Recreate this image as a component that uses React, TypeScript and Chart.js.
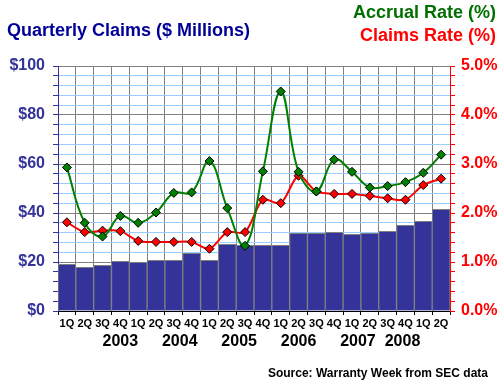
import React, { useEffect, useRef } from "react";
import { Chart, registerables } from "chart.js";

Chart.register(...registerables);

const quarters = [
  "1Q", "2Q", "3Q", "4Q",
  "1Q", "2Q", "3Q", "4Q",
  "1Q", "2Q", "3Q", "4Q",
  "1Q", "2Q", "3Q", "4Q",
  "1Q", "2Q", "3Q", "4Q",
  "1Q", "2Q",
];
const years = ["2003", "2004", "2005", "2006", "2007", "2008"];
const yearFirstQuarter = [0, 4, 8, 12, 16, 20];
const yearLastQuarter = [3, 7, 11, 15, 19, 21];

// Quarterly claims, $ millions (left axis)
const claims = [
  19.1, 17.8, 18.6, 20.3, 19.9, 20.7, 20.7, 23.5, 20.7, 27.2, 26.8,
  26.8, 26.8, 31.7, 31.7, 32.1, 31.3, 31.7, 32.5, 35.0, 36.6, 41.5,
];
// Accrual rate, % (right axis)
const accrualRate = [
  2.93, 1.8, 1.52, 1.94, 1.8, 2.01, 2.41, 2.42, 3.06, 2.1, 1.33,
  2.85, 4.48, 2.84, 2.44, 3.09, 2.84, 2.52, 2.55, 2.63, 2.82, 3.19,
];
// Claims rate, % (right axis)
const claimsRate = [
  1.81, 1.61, 1.64, 1.63, 1.43, 1.41, 1.41, 1.41, 1.27, 1.61, 1.61,
  2.27, 2.2, 2.76, 2.44, 2.39, 2.39, 2.35, 2.3, 2.27, 2.57, 2.7,
];

const leftTickLabels = ["$0", "$20", "$40", "$60", "$80", "$100"];
const rightTickLabels = ["0.0%", "1.0%", "2.0%", "3.0%", "4.0%", "5.0%"];

const FONT = '"Liberation Sans", Arial, Helvetica, sans-serif';

export default function App() {
  const canvasRef = useRef<HTMLCanvasElement | null>(null);

  useEffect(() => {
    if (!canvasRef.current) return;
    Chart.defaults.font.family = FONT;
    const chart = new Chart(canvasRef.current, {
      type: "bar",
      data: {
        labels: quarters,
        datasets: [
          {
            type: "line",
            label: "Accrual Rate (%)",
            data: accrualRate,
            yAxisID: "y1",
            borderColor: "#008000",
            borderWidth: 2,
            tension: 0.4,
            pointStyle: "rectRot",
            pointRadius: 4.5,
            pointBackgroundColor: "#008000",
            pointBorderColor: "#000000",
            pointBorderWidth: 1,
            order: 1,
          } as any,
          {
            type: "line",
            label: "Claims Rate (%)",
            data: claimsRate,
            yAxisID: "y1",
            borderColor: "#ff0000",
            borderWidth: 2,
            tension: 0.3,
            pointStyle: "rectRot",
            pointRadius: 4.5,
            pointBackgroundColor: "#ff0000",
            pointBorderColor: "#000000",
            pointBorderWidth: 1,
            order: 2,
          } as any,
          {
            type: "bar",
            label: "Quarterly Claims ($ Millions)",
            data: claims,
            yAxisID: "y",
            backgroundColor: "#333399",
            borderColor: "#808080",
            borderWidth: 1,
            barPercentage: 1,
            categoryPercentage: 1,
            order: 3,
          } as any,
        ],
      },
      options: {
        animation: false,
        responsive: false,
        layout: { padding: { top: 66, left: 0, right: 0, bottom: 0 } },
        plugins: {
          legend: { display: false },
          tooltip: { enabled: false },
          title: { display: false },
        },
        scales: {
          x: {
            type: "category",
            position: "bottom",
            weight: 0,
            offset: true,
            grid: {
              offset: true,
              color: "#808080",
              tickColor: "#000000",
              tickLength: 4,
              drawTicks: true,
            },
            border: { color: "#000000", width: 1 },
            ticks: {
              autoSkip: false,
              maxRotation: 0,
              minRotation: 0,
              padding: 2,
              color: "#000000",
              font: { size: 11, weight: "bold", family: FONT },
            },
            afterFit: (s: any) => {
              s.height = 21;
            },
          },
          x2: {
            type: "linear",
            position: "bottom",
            weight: 1,
            min: -0.5,
            max: 21.5,
            grid: { display: false, drawTicks: false },
            border: { display: false },
            afterBuildTicks: (s: any) => {
              s.ticks = years.map((_, k) => ({
                value: (yearFirstQuarter[k] + yearLastQuarter[k]) / 2,
              }));
            },
            ticks: {
              autoSkip: false,
              maxRotation: 0,
              minRotation: 0,
              padding: 0,
              color: "#000000",
              font: { size: 16, weight: "bold", family: FONT },
              callback: (_v: any, i: number) => years[i],
            },
            afterFit: (s: any) => {
              s.height = 53;
            },
          },
          y: {
            type: "linear",
            position: "left",
            min: 0,
            max: 100,
            grid: {
              color: (ctx: any) =>
                ctx.tick && Math.round(ctx.tick.value) % 20 === 0 ? "#808080" : "#99ccff",
              tickColor: "#333399",
              tickLength: 5,
            },
            border: { color: "#333399", width: 1 },
            ticks: {
              stepSize: 4,
              autoSkip: false,
              padding: 8,
              color: "#333399",
              font: { size: 16, weight: "bold", family: FONT },
              callback: (v: any) => {
                const n = Math.round(Number(v));
                return n % 20 === 0 ? leftTickLabels[n / 20] : "";
              },
            },
            afterFit: (s: any) => {
              s.width = 58;
            },
          },
          y1: {
            type: "linear",
            position: "right",
            min: 0,
            max: 5,
            grid: {
              drawOnChartArea: false,
              tickColor: "#ff0000",
              tickLength: 5,
            },
            border: { color: "#ff0000", width: 1 },
            ticks: {
              stepSize: 0.2,
              autoSkip: false,
              padding: 6,
              color: "#ff0000",
              font: { size: 16, weight: "bold", family: FONT },
              callback: (v: any) => {
                const n = Number(v);
                const r = Math.round(n);
                return Math.abs(n - r) < 1e-6 ? rightTickLabels[r] : "";
              },
            },
            afterFit: (s: any) => {
              s.width = 50;
            },
          },
        },
      } as any,
    });
    return () => chart.destroy();
  }, []);

  const textBase: React.CSSProperties = {
    position: "absolute",
    fontFamily: FONT,
    fontWeight: "bold",
    whiteSpace: "nowrap",
    margin: 0,
  };

  return (
    <div
      style={{
        position: "absolute",
        left: 0,
        top: 0,
        width: 500,
        height: 385,
        background: "#ffffff",
        overflow: "hidden",
      }}
    >
      <canvas
        ref={canvasRef}
        width={500}
        height={385}
        style={{ display: "block", width: 500, height: 385 }}
      />
      <div
        style={{
          ...textBase,
          left: 7,
          top: 21,
          fontSize: 18,
          lineHeight: "18px",
          color: "#000099",
        }}
      >
        Quarterly Claims ($ Millions)
      </div>
      <div
        style={{
          ...textBase,
          right: 4,
          top: 3,
          fontSize: 18,
          lineHeight: "18px",
          color: "#007000",
        }}
      >
        Accrual Rate (%)
      </div>
      <div
        style={{
          ...textBase,
          right: 4,
          top: 26,
          fontSize: 18,
          lineHeight: "18px",
          color: "#ff0000",
        }}
      >
        Claims Rate (%)
      </div>
      <div
        style={{
          ...textBase,
          right: 12,
          top: 367,
          fontSize: 12,
          lineHeight: "12px",
          color: "#000000",
        }}
      >
        Source: Warranty Week from SEC data
      </div>
    </div>
  );
}
